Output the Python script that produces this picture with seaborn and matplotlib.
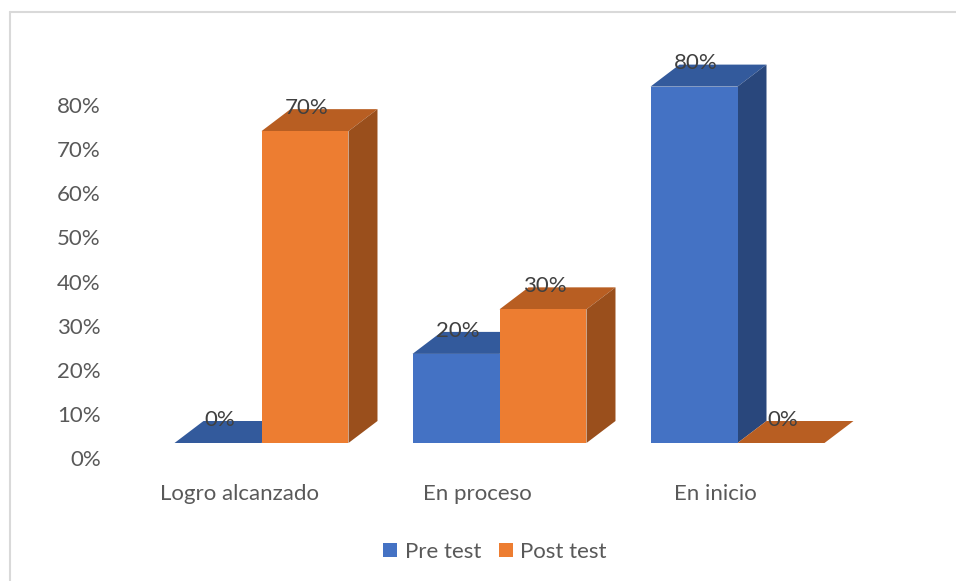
import matplotlib
matplotlib.use('Agg')
import matplotlib.pyplot as plt
import matplotlib.transforms as mtransforms
from matplotlib.lines import Line2D
from matplotlib.patches import Patch, Polygon
import pandas as pd
import seaborn as sns

categories = ['Logro alcanzado', 'En proceso', 'En inicio']
pre_test = [0, 20, 80]
post_test = [70, 30, 0]
series_names = ['Pre test', 'Post test']
y_ticks = [0, 10, 20, 30, 40, 50, 60, 70, 80]

front_colors = ['#4472C4', '#ED7D31']
top_colors = ['#335A9C', '#B85E22']
side_colors = ['#29477C', '#9A4F1C']
text_color = '#595959'
W, H = 956, 581

df = pd.DataFrame({
    'categoria': categories * 2,
    'serie': [series_names[0]] * 3 + [series_names[1]] * 3,
    'valor': pre_test + post_test,
})

sns.set_theme(style='white')
plt.rcParams['font.family'] = ['Lato', 'DejaVu Sans']

fig = plt.figure(figsize=(W / 100, H / 100), dpi=100)

# main axes: baseline of the bars sits at pixel row 443, 0 of x at pixel 262
ax = fig.add_axes([100 / W, (H - 443) / H, 780 / W, 383 / H])
sns.barplot(data=df, x='categoria', y='valor', hue='serie', palette=front_colors,
            width=0.731, saturation=1, legend=False, ax=ax, zorder=2,
            edgecolor='none', linewidth=0)
ax.set_xlim((100 - 261.5) / 238, (880 - 261.5) / 238)
ax.set_ylim(0, 383 / 4.455)
ax.set_xlabel('')
ax.set_ylabel('')
ax.set_yticks([])
sns.despine(ax=ax, left=True, bottom=True)
ax.patch.set_alpha(0)

# depth of the fake 3D extrusion, pixels converted to data units
dx = 29 / 238
dy = 22 / 4.455

for i, container in enumerate(ax.containers):
    for bar in container:
        x0 = bar.get_x()
        x1 = x0 + bar.get_width()
        h = bar.get_height()
        ax.add_patch(Polygon([(x0, h), (x1, h), (x1 + dx, h + dy), (x0 + dx, h + dy)],
                             facecolor=top_colors[i], edgecolor='none', zorder=1))
        if h > 0:
            ax.add_patch(Polygon([(x1, 0), (x1 + dx, dy), (x1 + dx, h + dy), (x1, h)],
                                 facecolor=side_colors[i], edgecolor='none', zorder=1))
    labels = ax.bar_label(container, fmt='%g%%', padding=9.5, fontsize=16,
                          color='#404040', zorder=5)
    for t in labels:
        t.xyann = (1.4, t.xyann[1])

# category labels sit left of the group centre, as in the 3D projection
ax.tick_params(axis='x', length=0, pad=0, labelsize=16, labelcolor=text_color)
shift = mtransforms.ScaledTranslation(-22 / 100, -41.5 / 100, fig.dpi_scale_trans)
for label in ax.get_xticklabels():
    label.set_transform(label.get_transform() + shift)

# percent labels have their own scale on the back wall of the chart
tick_ax = fig.add_axes([100 / W, (H - 458) / H, 40 / W, 400 / H])
tick_ax.set_ylim(0, 400 / 4.4125)
tick_ax.set_xticks([])
tick_ax.set_yticks(y_ticks)
tick_ax.set_yticklabels([f'{v}%' for v in y_ticks])
tick_ax.tick_params(axis='y', length=0, pad=-0.5, labelsize=16, labelcolor=text_color)
sns.despine(ax=tick_ax, left=True, bottom=True)
tick_ax.patch.set_alpha(0)

handles = [Patch(facecolor=c, edgecolor='none') for c in front_colors]
fig.legend(handles, series_names, loc='center', bbox_to_anchor=(495 / W, (H - 552) / H),
           ncol=2, frameon=False, fontsize=16, labelcolor=text_color,
           handlelength=0.62, handleheight=0.62, handletextpad=0.35, columnspacing=0.8)

# chart frame, open on the right and at the bottom
frame_color = '#D9D9D9'
fig.add_artist(Line2D([10 / W, 10 / W], [0, (H - 12) / H], color=frame_color, lw=1.5))
fig.add_artist(Line2D([10 / W, 1], [(H - 12) / H, (H - 12) / H], color=frame_color, lw=1.5))

fig.savefig('out.png', dpi=100)
